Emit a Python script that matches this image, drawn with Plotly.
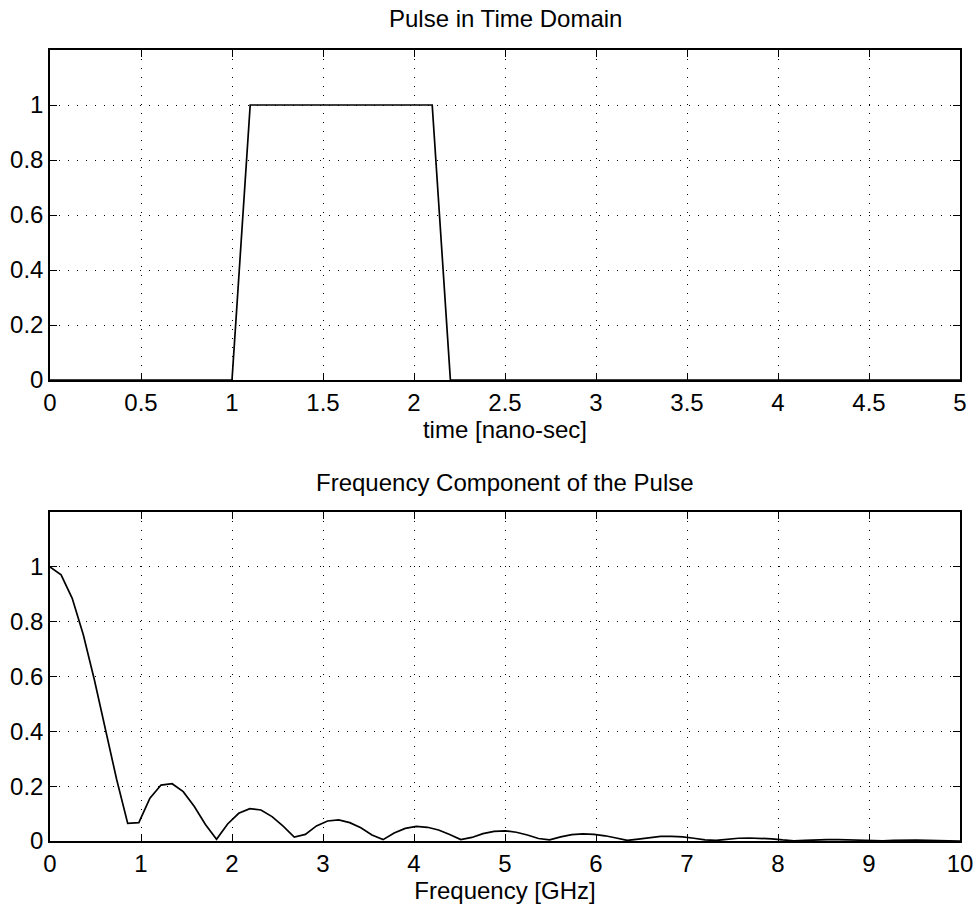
import numpy as np
import plotly.graph_objects as go

# Trapezoidal pulse vertices (time in ns, amplitude)
time_ns = [0, 1.0, 1.1, 2.1, 2.2, 5.0]
pulse_amp = [0, 0, 1, 1, 0, 0]

# Normalised spectrum magnitude, sampled every FREQ_STEP GHz
FREQ_STEP = 0.122
spectrum_mag = [
    1.000, 0.971, 0.885, 0.752, 0.587, 0.405, 0.225, 0.064, 0.067, 0.156,
    0.204, 0.209, 0.180, 0.126, 0.060, 0.006, 0.062, 0.101, 0.118, 0.113,
    0.089, 0.054, 0.014, 0.024, 0.055, 0.073, 0.077, 0.067, 0.048, 0.022,
    0.005, 0.029, 0.046, 0.053, 0.050, 0.040, 0.024, 0.005, 0.013, 0.027,
    0.035, 0.037, 0.032, 0.022, 0.009, 0.004, 0.015, 0.023, 0.026, 0.024,
    0.019, 0.011, 0.002, 0.007, 0.013, 0.017, 0.017, 0.015, 0.010, 0.004,
    0.002, 0.007, 0.010, 0.011, 0.010, 0.008, 0.004, 0.001, 0.002, 0.004,
    0.005, 0.005, 0.004, 0.002, 0.001, 0.001, 0.002, 0.003, 0.003, 0.002,
    0.001, 0.000, 0.000,
]
freq_ghz = np.arange(len(spectrum_mag)) * FREQ_STEP

y_ticks = [0, 0.2, 0.4, 0.6, 0.8, 1]
y_tick_text = ["0", "0.2", "0.4", "0.6", "0.8", "1"]
t_ticks = [0, 0.5, 1, 1.5, 2, 2.5, 3, 3.5, 4, 4.5, 5]
t_tick_text = ["0", "0.5", "1", "1.5", "2", "2.5", "3", "3.5", "4", "4.5", "5"]
f_ticks = list(range(0, 11))
f_tick_text = [str(v) for v in f_ticks]

FONT = "Liberation Sans, Arial, Helvetica, sans-serif"
FS = 24

fig = go.Figure()
fig.add_trace(go.Scatter(x=time_ns, y=pulse_amp, mode="lines",
                         line=dict(color="black", width=1.7),
                         xaxis="x", yaxis="y", showlegend=False))
fig.add_trace(go.Scatter(x=freq_ghz, y=spectrum_mag, mode="lines",
                         line=dict(color="black", width=1.7),
                         xaxis="x2", yaxis="y2", showlegend=False))

axis_common = dict(
    showline=True, linecolor="black", linewidth=1.5, mirror="ticks",
    ticks="inside", ticklen=7, tickwidth=1.2, tickcolor="black",
    showgrid=True, gridcolor="black", gridwidth=1, griddash="1px,8px",
    zeroline=False, automargin=False,
    tickfont=dict(family=FONT, size=FS, color="black"),
)

bottom_dom = [0, 329 / 791]
top_dom = [(791 - 330) / 791, 1]

fig.update_layout(
    width=978, height=915,
    margin=dict(l=50, r=18, t=50, b=74),
    paper_bgcolor="white", plot_bgcolor="white",
    font=dict(family=FONT, color="black"),
    xaxis=dict(axis_common, domain=[0, 1], range=[0, 5], anchor="y",
               tickvals=t_ticks, ticktext=t_tick_text,
               title=dict(text="time [nano-sec]", font=dict(size=FS), standoff=5)),
    yaxis=dict(axis_common, domain=top_dom, range=[0, 1.2], anchor="x",
               tickvals=y_ticks, ticktext=y_tick_text),
    xaxis2=dict(axis_common, domain=[0, 1], range=[0, 10], anchor="y2",
                tickvals=f_ticks, ticktext=f_tick_text,
                title=dict(text="Frequency [GHz]", font=dict(size=FS), standoff=5)),
    yaxis2=dict(axis_common, domain=bottom_dom, range=[0, 1.2], anchor="x2",
                tickvals=y_ticks, ticktext=y_tick_text),
    annotations=[
        dict(text="Pulse in Time Domain", xref="paper", yref="paper",
             x=0.5, y=top_dom[1], yshift=16, showarrow=False,
             font=dict(family=FONT, size=FS, color="black"), yanchor="bottom"),
        dict(text="Frequency Component of the Pulse", xref="paper", yref="paper",
             x=0.5, y=bottom_dom[1], yshift=14, showarrow=False,
             font=dict(family=FONT, size=FS, color="black"), yanchor="bottom"),
    ],
)

fig.write_html("out.html")
